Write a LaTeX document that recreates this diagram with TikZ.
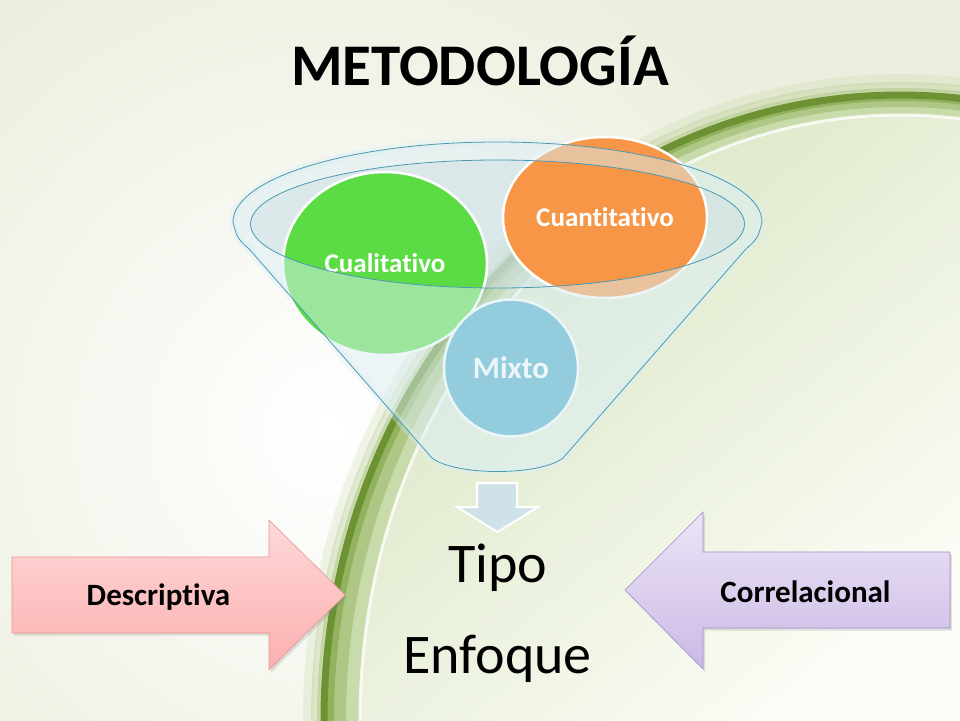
\documentclass[tikz,border=0pt]{standalone}
\usepackage{fontspec}
\setmainfont{Carlito}[Ligatures=NoCommon]
\usetikzlibrary{shapes.geometric, shadows}

\definecolor{bgbase}{HTML}{ECEFDF}
\definecolor{ingreen}{HTML}{D6E3BD}
\definecolor{inwhite}{HTML}{FAFCF5}
\definecolor{banddark}{HTML}{6C9234}
\definecolor{bandmid}{HTML}{92B25E}
\definecolor{bandlight}{HTML}{AEC785}
\definecolor{bandsoft}{HTML}{C9DAAB}
\definecolor{bandglow}{HTML}{B9CE93}
\definecolor{funnelblue}{HTML}{4A9AB4}
\definecolor{mouth}{HTML}{D2E4E9}
\definecolor{veil}{HTML}{DBEEF4}
\definecolor{cualgreen}{HTML}{5BDC45}
\definecolor{cuantorange}{HTML}{F79646}
\definecolor{mixtoblue}{HTML}{4BACC6}
\definecolor{pinktop}{HTML}{FFD8D8}
\definecolor{pinkbot}{HTML}{FBAFAF}
\definecolor{pinkline}{HTML}{E39696}
\definecolor{lilactop}{HTML}{ECE5F6}
\definecolor{lilacbot}{HTML}{CBB9E6}
\definecolor{lilacline}{HTML}{A08AC8}
\definecolor{downfill}{HTML}{CFE2E8}

\newcommand\funneloutline{(233,222) arc[start angle=180, end angle=0, x radius=264.5pt, y radius=80pt]
  .. controls (758,238) .. (745,250) -- (563,458) .. controls (540,476) and (455,476) .. (432,458)
  -- (250,250) .. controls (237,238) .. cycle}

\tikzset{
  blob/.style={ellipse, draw=white, line width=2.5pt, inner sep=0pt, text=white,
    font=\bfseries\fontsize{27}{32}\selectfont},
  bigword/.style={anchor=base, font=\fontsize{56}{66}\selectfont},
  sideword/.style={anchor=base, font=\bfseries\fontsize{31}{36}\selectfont},
  blockarrow/.style={line width=0.6pt, drop shadow={opacity=.22, shadow xshift=2pt, shadow yshift=-2.5pt}},
}

\begin{document}
\begin{tikzpicture}[x=1pt, y=-1pt]
  \useasboundingbox (0,0) rectangle (960,720);
  \clip (0,0) rectangle (960,720);

  % background
  \fill[bgbase] (0,0) rectangle (960,720);
  \shade[inner color=white, outer color=bgbase] (330,430) circle [radius=520pt];
  \begin{scope}
    \clip (900,720) ellipse [x radius=576pt, y radius=625pt];
    \shade[shading=axis, top color=ingreen, bottom color=inwhite, shading angle=40] (324,80) rectangle (960,720);
  \end{scope}
  \draw[bandglow, line width=10pt, opacity=.2] (900,720) ellipse [x radius=592pt, y radius=641pt];
  \draw[bandglow, line width=8pt, opacity=.4] (900,720) ellipse [x radius=585pt, y radius=634pt];
  \draw[bandglow, line width=6pt, opacity=.7] (900,720) ellipse [x radius=580pt, y radius=629pt];
  \fill[bandsoft, even odd rule] (900,720) ellipse [x radius=576pt, y radius=625pt]
    (900,720) ellipse [x radius=540pt, y radius=605pt];
  \fill[bandlight, even odd rule] (900,720) ellipse [x radius=576pt, y radius=625pt]
    (900,720) ellipse [x radius=554pt, y radius=613pt];
  \fill[bandmid, even odd rule] (900,720) ellipse [x radius=576pt, y radius=625pt]
    (900,720) ellipse [x radius=566pt, y radius=619pt];
  \draw[banddark, line width=7pt] (900,720) ellipse [x radius=576pt, y radius=625pt];
  \draw[white, line width=3pt, opacity=.8] (900,720) ellipse [x radius=540pt, y radius=605pt];

  % funnel
  \draw[veil, line width=8pt, opacity=.35] \funneloutline;
  \fill[mouth, opacity=.75] (497.5,224) ellipse [x radius=247pt, y radius=64pt];

  \node[blob, fill=cualgreen, minimum width=204pt, minimum height=183pt] (cual) at (385,263.5) {Cualitativo};
  \node[blob, fill=cuantorange, minimum width=204pt, minimum height=161pt] (cuant) at (605,217.5) {Cuantitativo};
  \node[blob, fill=mixtoblue, minimum width=134pt, minimum height=137pt,
    font=\bfseries\fontsize{31}{36}\selectfont] (mixto) at (511,368) {Mixto};

  \draw[funnelblue, line width=0.8pt, fill=veil, fill opacity=.5, even odd rule]
    \funneloutline (497.5,224) ellipse [x radius=247pt, y radius=64pt];

  \draw[white, line width=2pt, fill=downfill, line join=miter]
    (477,483) -- (517,483) -- (517,507) -- (538,507) -- (497.5,532) -- (457,507) -- (477,507) -- cycle;

  % side arrows
  \draw[blockarrow, draw=pinkline, top color=pinktop, bottom color=pinkbot]
    (12,557) -- (269,557) -- (269,520) -- (345,595) -- (269,670) -- (269,633) -- (12,633) -- cycle;
  \draw[blockarrow, draw=lilacline, top color=lilactop, bottom color=lilacbot]
    (950,552) -- (703,552) -- (703,512) -- (625,590) -- (703,669) -- (703,628) -- (950,628) -- cycle;

  % texts
  \node[anchor=base, font=\bfseries\fontsize{59}{70}\selectfont] (title) at (480,85) {METODOLOGÍA};
  \node[bigword] (tipo) at (498,582) {Tipo};
  \node[bigword] (enfoque) at (497.5,673) {Enfoque};
  \node[sideword] (desc) at (158.5,605) {Descriptiva};
  \node[sideword] (corr) at (805.5,602) {Correlacional};
\end{tikzpicture}
\end{document}
